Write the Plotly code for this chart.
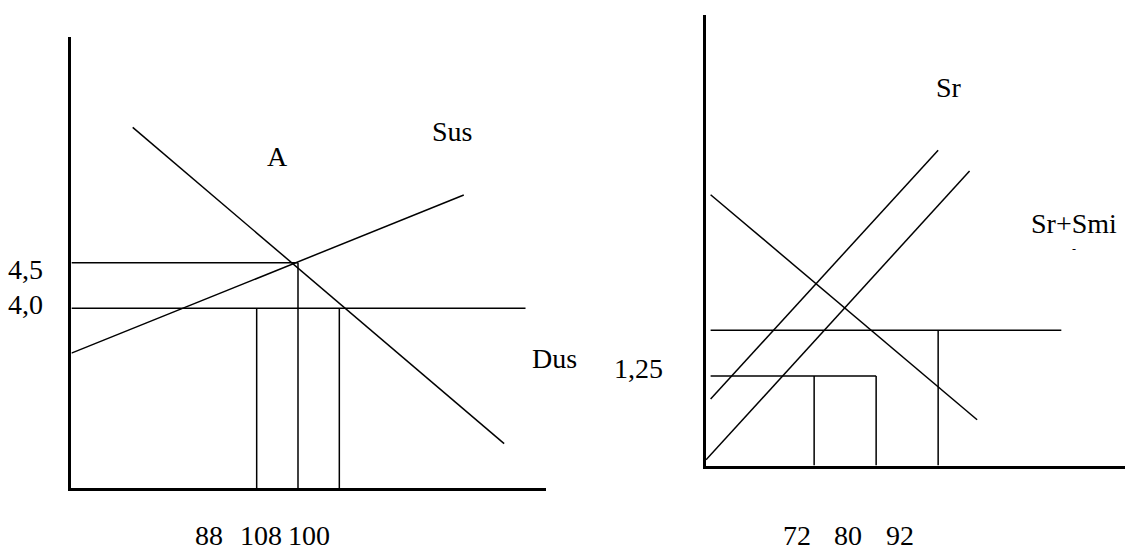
import plotly.graph_objects as go

# ---- left panel: US market ----
us_demand_q = [12.9, 91.1]
us_demand_p = [5.98, 2.52]
us_supply_q = [0, 82.6]
us_supply_p = [3.51, 5.24]
us_price_levels = [4.5, 4.0]
us_price_line_ends = [47.7, 95.6]
us_qty_marks = [39.0, 47.7, 56.4]
us_qty_tops = [4.0, 4.5, 4.0]
us_p_floor = 2.03
us_p_ceiling = 6.97
us_q_max = 100

us_price_labels = ["4,5", "4,0"]
us_price_label_x = -9.6
us_price_label_y = [4.43, 4.04]
us_qty_labels = ["88", "108", "100"]
us_qty_label_x = [29.0, 40.0, 50.1]
us_qty_label_y = 1.52
us_curve_labels = ["A", "Sus", "Dus"]
us_curve_label_x = [43.4, 80.2, 101.8]
us_curve_label_y = [5.66, 5.93, 3.45]

# ---- right panel: rest of world ----
row_demand_q = [1.09, 64.7]
row_demand_p = [3.78, 0.64]
sr_q = [1.09, 55.4]
sr_p = [0.93, 4.40]
sr_smi_q = [0, 62.9]
sr_smi_p = [0.08, 4.11]
row_price_levels = [1.89, 1.25]
row_price_line_start = 1.09
row_price_line_ends = [84.8, 40.6]
row_qty_marks = [25.8, 40.6, 55.4]
row_qty_tops = [1.25, 1.25, 1.89]
row_p_floor = 0
row_p_ceiling = 6.29
row_q_max = 100

row_price_labels = ["1,25"]
row_price_label_x = -16.1
row_price_label_y = [1.35]
row_qty_labels = ["72", "80", "92"]
row_qty_label_x = [21.6, 33.8, 46.3]
row_qty_label_y = -0.97
row_curve_labels = ["Sr", "Sr+Smi"]
row_curve_label_x = [57.9, 87.9]
row_curve_label_y = [5.27, 3.38]

FONT = "Liberation Serif, Times New Roman, serif"
LINE_W = 1.5


def draw_line(xs, ys, xaxis, yaxis):
    return go.Scatter(
        x=xs, y=ys, mode="lines",
        line=dict(color="black", width=LINE_W),
        xaxis=xaxis, yaxis=yaxis,
        showlegend=False, hoverinfo="skip"
    )


def label(text, x, y, ax, xr, yr, size=28):
    # domain refs let labels sit outside the axis ranges (data refs get hidden)
    return dict(
        text=text,
        x=(x - xr[0]) / (xr[1] - xr[0]),
        y=(y - yr[0]) / (yr[1] - yr[0]),
        xref=f"x{ax} domain", yref=f"y{ax} domain",
        xanchor="center", yanchor="middle", showarrow=False, borderpad=0,
        font=dict(family=FONT, size=size, color="black")
    )


us_xr = [0, us_q_max]
us_yr = [us_p_floor, us_p_ceiling]
row_xr = [0, row_q_max]
row_yr = [row_p_floor, row_p_ceiling]

traces = []
notes = []

# left panel
traces.append(draw_line(us_demand_q, us_demand_p, "x", "y"))
traces.append(draw_line(us_supply_q, us_supply_p, "x", "y"))
for p, q_end in zip(us_price_levels, us_price_line_ends):
    traces.append(draw_line([0, q_end], [p, p], "x", "y"))
for q, top in zip(us_qty_marks, us_qty_tops):
    traces.append(draw_line([q, q], [us_p_floor, top], "x", "y"))

for t, y in zip(us_price_labels, us_price_label_y):
    notes.append(label(t, us_price_label_x, y, "", us_xr, us_yr))
for t, x in zip(us_qty_labels, us_qty_label_x):
    notes.append(label(t, x, us_qty_label_y, "", us_xr, us_yr))
for t, x, y in zip(us_curve_labels, us_curve_label_x, us_curve_label_y):
    notes.append(label(t, x, y, "", us_xr, us_yr))

# right panel
traces.append(draw_line(row_demand_q, row_demand_p, "x2", "y2"))
traces.append(draw_line(sr_q, sr_p, "x2", "y2"))
traces.append(draw_line(sr_smi_q, sr_smi_p, "x2", "y2"))
for p, q_end in zip(row_price_levels, row_price_line_ends):
    traces.append(draw_line([row_price_line_start, q_end], [p, p], "x2", "y2"))
for q, top in zip(row_qty_marks, row_qty_tops):
    traces.append(draw_line([q, q], [row_p_floor, top], "x2", "y2"))

for t, y in zip(row_price_labels, row_price_label_y):
    notes.append(label(t, row_price_label_x, y, "2", row_xr, row_yr))
for t, x in zip(row_qty_labels, row_qty_label_x):
    notes.append(label(t, x, row_qty_label_y, "2", row_xr, row_yr))
for t, x, y in zip(row_curve_labels, row_curve_label_x, row_curve_label_y):
    notes.append(label(t, x, y, "2", row_xr, row_yr))
notes.append(label("-", 87.8, 3.02, "2", row_xr, row_yr, size=12))

fig = go.Figure(traces)

axis_style = dict(
    showline=True, linecolor="black", linewidth=2.5,
    showgrid=False, zeroline=False, showticklabels=False, ticks="",
    fixedrange=True
)

fig.update_layout(
    width=1125, height=551,
    margin=dict(l=0, r=0, t=0, b=0),
    paper_bgcolor="white", plot_bgcolor="white",
    xaxis=dict(domain=[0.0635, 0.4857], range=us_xr, anchor="y", **axis_style),
    yaxis=dict(domain=[0.1136, 0.9330], range=us_yr, anchor="x", **axis_style),
    xaxis2=dict(domain=[0.6276, 1.0], range=row_xr, anchor="y2", **axis_style),
    yaxis2=dict(domain=[0.155, 0.9731], range=row_yr, anchor="x2", **axis_style),
    annotations=notes,
)

fig.write_html(
    "out.html",
    config={"displayModeBar": False},
    post_script="document.body.style.margin='0';",
)
